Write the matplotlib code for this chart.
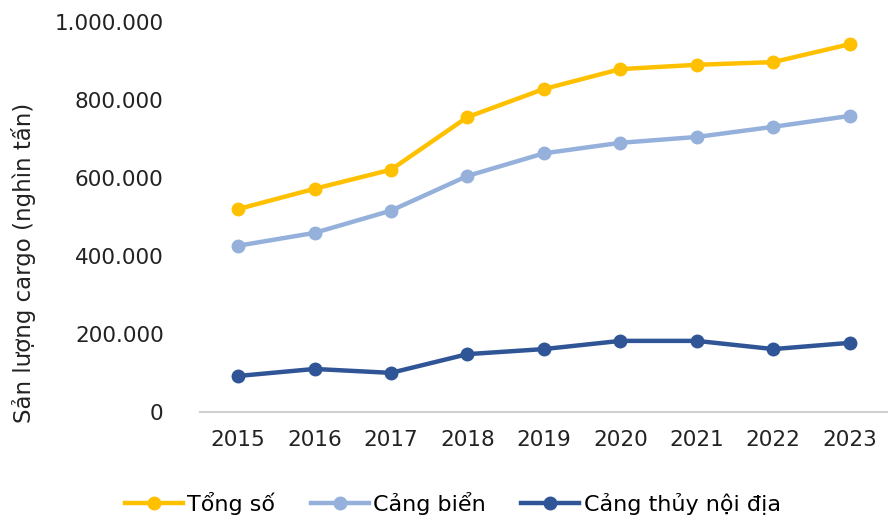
import matplotlib.pyplot as plt
from matplotlib.ticker import FuncFormatter

years = ["2015", "2016", "2017", "2018", "2019", "2020", "2021", "2022", "2023"]
tong_so = [520000, 572000, 621000, 756000, 828000, 879000, 890000, 897000, 943000]
cang_bien = [426000, 459000, 516000, 605000, 663000, 690000, 705000, 731000, 759000]
cang_thuy = [92000, 110000, 100000, 148000, 161000, 182000, 182000, 161000, 177000]

names = ["Tổng số", "Cảng biển", "Cảng thủy nội địa"]
colors = ["#FFC000", "#95B1DB", "#2F5597"]

plt.rcParams["font.family"] = ["DejaVu Sans"]

fig = plt.figure(figsize=(8.88, 5.22), dpi=100)
ax = fig.add_axes([0.225, 0.211, 0.775, 0.747])

x = range(len(years))
for vals, name, c in zip([tong_so, cang_bien, cang_thuy], names, colors):
    ax.plot(x, vals, color=c, lw=3.2, marker="o", markersize=9, label=name)

ax.set_xlim(-0.5, len(years) - 0.5)
ax.set_ylim(0, 1000000)
ax.set_yticks(range(0, 1000001, 200000))
ax.yaxis.set_major_formatter(FuncFormatter(lambda v, p: f"{int(v):,}".replace(",", ".")))
ax.set_xticks(list(x))
ax.set_xticklabels(years)
ax.tick_params(axis="both", length=0, labelsize=15.5, colors="#222222")
ax.tick_params(axis="x", pad=13)
ax.tick_params(axis="y", pad=26)

for s in ["top", "right", "left"]:
    ax.spines[s].set_visible(False)
ax.spines["bottom"].set_color("#D0D0D0")
ax.spines["bottom"].set_linewidth(1.5)

fig.text(0.026, 0.497, "Sản lượng cargo (nghìn tấn)", rotation=90, fontsize=16.5,
         va="center", ha="center", color="#222222")

fig.legend(loc="lower center", bbox_to_anchor=(0.51, -0.025), ncol=3, frameon=False,
           fontsize=16, handlelength=2.6, handletextpad=0.2, columnspacing=1.6)

plt.savefig("out.png", dpi=100)
